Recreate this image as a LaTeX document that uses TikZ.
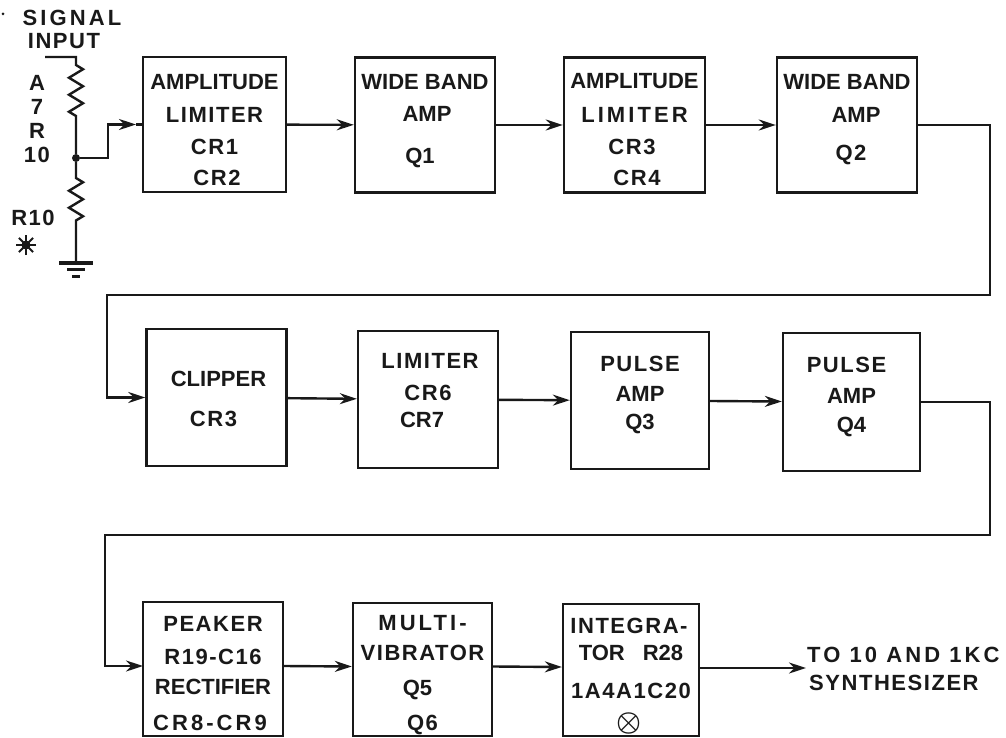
\documentclass[tikz,border=0pt]{standalone}
\usepackage{fontspec}
\usepackage{graphicx}
\setmainfont{Liberation Sans}
\newfontfamily\spaced[LetterSpace=7]{Liberation Sans}
\newfontfamily\wider[LetterSpace=14]{Liberation Sans}
\usetikzlibrary{arrows.meta,decorations.pathmorphing}
% first argument moves the lines down inside the box
\newcommand{\boxlines}[2]{\raisebox{\dimexpr-#1pt-8.5pt\relax}[0pt][0pt]{\begin{tabular}{@{}c@{}}#2\end{tabular}}}
\tikzset{
    blockbox/.style={draw=black!90, line width=2.4pt, minimum width=140pt, minimum height=135pt, inner sep=0pt},
    plaintext/.style={inner sep=0pt, align=center},
    wire/.style={draw=black!90, line width=2.4pt},
    feed/.style={wire, -{Stealth[length=17pt,width=11pt]}},
    resistor/.style={decoration={zigzag, segment length=17pt, amplitude=7pt}},
    junction/.style={circle, fill=black!90, inner sep=0pt, minimum size=8pt},
    every node/.style={font=\fontsize{22}{19}\selectfont\bfseries, text=black!90},
}
\begin{document}
\begin{tikzpicture}[x=1pt, y=-1pt]
    \useasboundingbox (0,0) rectangle (1006,738);
    % input network
    \node[plaintext] (siglabel) at (72,29) {\wider SIGNAL\\[4pt]\hspace*{-16pt}\spaced INPUT};
    \node[plaintext] (alabel) at (37,119) {A\\[5pt]7\\[5pt]R\\[5pt]\spaced 10};
    \node[plaintext] (rlabel) at (33,218) {\spaced R10};
    \coordinate (sigend) at (45,57);
    \coordinate (sigtop) at (76,57);
    \coordinate (rtopa) at (76,65);
    \coordinate (rtopb) at (76,118);
    \node[junction] (junc) at (76,158) {};
    \coordinate (rlowa) at (76,178);
    \coordinate (rlowb) at (76,228);
    \coordinate (gnd) at (76,263);
    \coordinate (gndaa) at (59,263);
    \coordinate (gndab) at (93,263);
    \coordinate (gndba) at (67,269);
    \coordinate (gndbb) at (85,269);
    \coordinate (gndca) at (72,276);
    \coordinate (gndcb) at (80,276);
    \coordinate (star) at (26,245);
    \draw[wire] (sigend) -- (sigtop) -- (rtopa) decorate[resistor] {-- (rtopb)} -- (junc);
    \draw[wire] (junc) -- (rlowa) decorate[resistor] {-- (rlowb)} -- (gnd);
    \draw[wire, line width=3.5pt] (gndaa) -- (gndab);
    \draw[wire, line width=3pt] (gndba) -- (gndbb);
    \draw[wire, line width=3pt] (gndca) -- (gndcb);
    \foreach \ang in {0,45,90,135}
        \draw[line width=2pt, black!90] (star) ++(\ang:10) -- ++(\ang+180:20);
    \fill[black!90] (star) circle (4.5);
    \fill[black!90] (3,14) circle (1.5);
    % first row
    \node[blockbox, minimum width=143pt] (ampa) at (214.5,124.5) {\boxlines{5}{AMPLITUDE\\[12pt]\spaced LIMITER\\[11pt]\spaced CR1\\[10pt]\hspace*{5pt}\spaced CR2}};
    \node[blockbox] (wba) at (425,125) {\boxlines{-6.5}{WIDE BAND\\[12pt]\hspace*{4pt}AMP\\[21pt]\hspace*{-10pt}Q1}};
    \node[blockbox, minimum width=141pt] (ampb) at (634.5,125) {\boxlines{4}{AMPLITUDE\\[13pt]\wider LIMITER\\[11pt]\hspace*{-5pt}\spaced CR3\\[10pt]\hspace*{5pt}\spaced CR4}};
    \node[blockbox] (wbb) at (847,125) {\boxlines{-8}{WIDE BAND\\[13pt]\hspace*{18pt}AMP\\[17pt]\hspace*{8pt}\spaced Q2}};
    % second row
    \node[blockbox, minimum height=137pt] (clip) at (216.5,397.5) {\boxlines{1}{\hspace*{4pt}CLIPPER\\[19pt]\hspace*{-6pt}\spaced CR3}};
    \node[blockbox, minimum height=137pt] (limb) at (428,399.5) {\boxlines{-9.5}{\hspace*{4pt}\spaced LIMITER\\[10pt]\spaced CR6\\[6pt]\hspace*{-12pt}CR7}};
    \node[blockbox, minimum width=138pt, minimum height=137pt] (pula) at (640,400.5) {\boxlines{-8.5}{\spaced PULSE\\[9pt]AMP\\[7pt]Q3}};
    \node[blockbox, minimum width=137pt, minimum height=138pt] (pulb) at (851.5,402) {\boxlines{-8}{\hspace*{-10pt}\spaced PULSE\\[10pt]AMP\\[8pt]Q4}};
    % third row
    \node[blockbox, minimum height=134pt] (peak) at (213,669) {\boxlines{4}{\spaced PEAKER\\[12pt]\spaced R19-C16\\[9pt]RECTIFIER\\[15pt]\hspace*{-6pt}\wider CR8-CR9}};
    \node[blockbox, minimum width=139pt, minimum height=133pt] (mult) at (422.5,669.5) {\boxlines{3}{\wider MULTI-\\[8pt]\spaced VIBRATOR\\[14pt]\hspace*{-10pt}Q5\\[14pt]\spaced Q6}};
    \node[blockbox, minimum width=136pt, minimum height=132pt] (intg) at (631,670) {\boxlines{4}{\hspace*{-4pt}\spaced INTEGRA-\\[6pt]TOR\hspace{18pt}R28\\[17pt]\spaced 1A4A1C20\\[9pt]\hspace*{-4pt}\scalebox{1.35}{\boldmath$\otimes$}}};
    \node[plaintext, anchor=west, align=left] (synth) at (807,669) {{\wider TO 10 AND 1KC}\\[9pt]\hspace*{2pt}{\spaced SYNTHESIZER}};
    % connectors
    \coordinate (bendin) at (108,124.5);
    \coordinate (tipin) at (136,124.5);
    \draw[feed] (junc) -| (bendin) -- (tipin);
    \draw[wire] (tipin) -- (ampa.west);
    \draw[feed] (ampa) -- (wba);
    \draw[feed] (wba) -- (ampb);
    \draw[feed] (ampb) -- (wbb);
    \coordinate (turnaa) at (990,295);
    \coordinate (turnab) at (107,295);
    \draw[feed] (wbb.east) -| (turnaa) -- (turnab) |- (clip.west);
    \draw[feed] (clip) -- (limb);
    \draw[feed] (limb) -- (pula);
    \draw[feed] (pula) -- (pulb);
    \coordinate (turnba) at (990,535);
    \coordinate (turnbb) at (105,535);
    \coordinate (peakin) at (143,666);
    \draw[feed] (pulb.east) -| (turnba) -- (turnbb) |- (peakin);
    \draw[feed] ([yshift=3pt]peak.east) -- ([yshift=3pt]mult.west);
    \draw[feed] ([yshift=3pt]mult.east) -- ([yshift=3pt]intg.west);
    \coordinate (tosynth) at (806,668);
    \draw[feed] ([yshift=2pt]intg.east) -- (tosynth);
\end{tikzpicture}
\end{document}
